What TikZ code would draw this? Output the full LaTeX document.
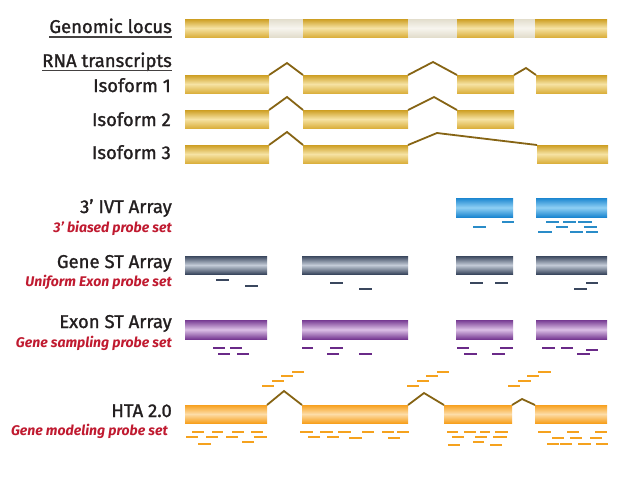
\documentclass[tikz,border=0pt]{standalone}
\usepackage{fontspec}
\setmainfont{Fira Sans}
\usetikzlibrary{calc}
\definecolor{gdark}{HTML}{CD9E22}
\definecolor{gmid}{HTML}{DBB03E}
\definecolor{glight}{HTML}{F6E3A4}
\definecolor{idark}{HTML}{E2DDCC}
\definecolor{ilight}{HTML}{F7F5EF}
\definecolor{junc}{HTML}{866414}
\definecolor{bdark}{HTML}{1B86D0}
\definecolor{blight}{HTML}{8FD0F4}
\definecolor{sdark}{HTML}{3A475E}
\definecolor{slight}{HTML}{C4CCD8}
\definecolor{pdark}{HTML}{763A92}
\definecolor{plight}{HTML}{DCC0E6}
\definecolor{odark}{HTML}{F7A01E}
\definecolor{olight}{HTML}{FDDDA8}
\definecolor{bprobe}{HTML}{2A8CC8}
\definecolor{sprobe}{HTML}{3A475E}
\definecolor{pprobe}{HTML}{6A2A88}
\definecolor{oprobe}{HTML}{F5A21E}
\definecolor{redtxt}{HTML}{C01A30}
\definecolor{blktxt}{HTML}{231F20}
\tikzset{
  bar/.style={draw=none, inner sep=0pt, outer sep=0pt, anchor=north west, minimum height=18pt},
  goldbar/.style={bar, top color=gdark, bottom color=gmid, middle color=glight},
  greybar/.style={bar, top color=idark, bottom color=idark, middle color=ilight},
  bluebar/.style={bar, minimum height=19pt, top color=bdark, bottom color=bdark, middle color=blight},
  slatebar/.style={bar, top color=sdark, bottom color=sdark, middle color=slight},
  purpbar/.style={bar, minimum height=19pt, top color=pdark, bottom color=pdark, middle color=plight},
  orbar/.style={bar, top color=odark, bottom color=odark, middle color=olight},
  junction/.style={draw=junc, line width=1.8pt, line join=miter},
  lbl/.style={anchor=base east, inner sep=0pt, text=blktxt, font=\fontsize{18.5}{22}\selectfont\addfontfeature{FakeBold=1.3}},
  sub/.style={anchor=base east, inner sep=0pt, text=redtxt, font=\fontsize{14}{16}\selectfont\bfseries\itshape},
  uline/.style={draw=blktxt!85, line width=1.2pt},
  pB/.style={draw=bprobe, line width=2.6pt},
  pS/.style={draw=sprobe, line width=2.6pt},
  pP/.style={draw=pprobe, line width=2.6pt},
  pO/.style={draw=oprobe, line width=2.6pt},
}
\begin{document}
\begin{tikzpicture}[x=1pt,y=-1pt]
\useasboundingbox[fill=white] (0,0) rectangle (640,480);

% ---- labels ----
\node[lbl] (tgl) at (172,33) {Genomic locus};
\draw[uline] ([yshift=-4pt]tgl.base west) -- ([yshift=-4pt]tgl.base east);
\node[lbl] (trna) at (172,67) {RNA transcripts};
\draw[uline] ([yshift=-3.5pt]trna.base west) -- ([yshift=-3.5pt]trna.base east);
\node[lbl] (tiso1) at (171,92) {Isoform 1};
\node[lbl] (tiso2) at (171,126) {Isoform 2};
\node[lbl] (tiso3) at (171,159) {Isoform 3};
\node[lbl] (tivt) at (172,213) {3’ IVT Array};
\node[sub] (sivt) at (172,232) {3’ biased probe set};
\node[lbl] (tgst) at (172,268) {Gene ST Array};
\node[sub] (sgst) at (172,286) {Uniform Exon probe set};
\node[lbl] (test) at (172,328) {Exon ST Array};
\node[sub] (sest) at (172,347) {Gene sampling probe set};
\node[lbl] (thta) at (172,417) {HTA 2.0};
\node[sub] (shta) at (168,435) {Gene modeling probe set};

% ---- genomic locus ----
\node[goldbar, minimum width=84pt] (g1) at (185,19) {};
\node[greybar, minimum width=34pt] (n1) at (269,19) {};
\node[goldbar, minimum width=105pt] (g2) at (303,19) {};
\node[greybar, minimum width=49pt] (n2) at (408,19) {};
\node[goldbar, minimum width=57pt] (g3) at (457,19) {};
\node[greybar, minimum width=21pt] (n3) at (514,19) {};
\node[goldbar, minimum width=72pt] (g4) at (535,19) {};

% ---- isoform 1 ----
\node[goldbar, minimum width=84pt] (a1) at (185,75) {};
\node[goldbar, minimum width=105pt] (a2) at (303,75) {};
\node[goldbar, minimum width=57pt] (a3) at (457,75) {};
\node[goldbar, minimum width=71pt] (a4) at (536,75) {};
\coordinate (ap1) at (287,63);
\coordinate (ap2) at (433,62);
\coordinate (ap3) at (526,68);
\draw[junction] (a1.north east) -- (ap1) -- (a2.north west);
\draw[junction] (a2.north east) -- (ap2) -- (a3.north west);
\draw[junction] (a3.north east) -- (ap3) -- (a4.north west);

% ---- isoform 2 ----
\node[goldbar, minimum width=84pt] (b1) at (185,110) {};
\node[goldbar, minimum width=105pt] (b2) at (303,110) {};
\node[goldbar, minimum width=57pt] (b3) at (457,110) {};
\coordinate (bp1) at (287,97);
\coordinate (bp2) at (434,97);
\draw[junction] (b1.north east) -- (bp1) -- (b2.north west);
\draw[junction] (b2.north east) -- (bp2) -- (b3.north west);

% ---- isoform 3 ----
\node[goldbar, minimum width=84pt] (c1) at (185,145) {};
\node[goldbar, minimum width=105pt] (c2) at (303,145) {};
\node[goldbar, minimum width=71pt] (c3) at (537,145) {};
\coordinate (cp1) at (287,132);
\coordinate (cp2) at (437,133);
\draw[junction] (c1.north east) -- (cp1) -- (c2.north west);
\draw[junction] (c2.north east) -- (cp2) -- (c3.north west);

% ---- 3' IVT ----
\node[bluebar, minimum width=57pt] (v1) at (456,198) {};
\node[bluebar, minimum width=71pt] (v2) at (536,198) {};
\foreach \xa/\xb/\yy in {473/486/227, 502/514/222, 546/559/222, 563/576/222, 578/592/222,
  556/568/227, 584/597/227, 538/552/232, 570/583/232, 586/598/232}
  \draw[pB] (\xa,\yy) -- (\xb,\yy);

% ---- Gene ST ----
\node[slatebar, minimum width=82pt] (s1) at (185,256) {};
\node[slatebar, minimum width=106pt] (s2) at (302,256) {};
\node[slatebar, minimum width=57pt] (s3) at (456,256) {};
\node[slatebar, minimum width=71pt] (s4) at (536,256) {};
\foreach \xa/\xb/\yy in {216/229/280, 245/258/286, 330/343/283, 359/372/289,
  470/483/283, 495/508/283, 586/598/283, 574/587/289}
  \draw[pS] (\xa,\yy) -- (\xb,\yy);

% ---- Exon ST ----
\node[purpbar, minimum width=82pt] (e1) at (185,320) {};
\node[purpbar, minimum width=106pt] (e2) at (302,320) {};
\node[purpbar, minimum width=57pt] (e3) at (456,320) {};
\node[purpbar, minimum width=71pt] (e4) at (536,320) {};
\foreach \xa/\xb/\yy in {213/225/348, 230/242/348, 218/230/354, 237/249/354,
  302/313/348, 330/343/348, 327/339/354, 359/372/354,
  457/469/348, 500/513/348, 464/477/354, 492/505/354,
  542/555/348, 561/573/348, 586/598/350, 577/590/354}
  \draw[pP] (\xa,\yy) -- (\xb,\yy);

% ---- HTA 2.0 ----
\node[orbar, minimum width=82pt] (h1) at (185,405) {};
\node[orbar, minimum width=106pt] (h2) at (302,405) {};
\node[orbar, minimum width=68pt] (h3) at (444,405) {};
\node[orbar, minimum width=72pt] (h4) at (535,405) {};
\coordinate (hp1) at (284,391);
\coordinate (hp2) at (424,393);
\coordinate (hp3) at (522,399);
\draw[junction] (h1.north east) -- (hp1) -- (h2.north west);
\draw[junction] (h2.north east) -- (hp2) -- (h3.north west);
\draw[junction] (h3.north east) -- (hp3) -- (h4.north west);
\foreach \xa/\xb/\yy in {262/274/386, 272/284/381, 281/293/376, 292/304/372,
  407/419/386, 417/429/381, 426/438/376, 437/449/372,
  508/520/386, 518/531/381, 527/539/376, 538/551/372,
  192/204/432, 212/223/432, 232/244/432, 251/263/432,
  186/198/437, 206/218/437, 226/238/437, 254/267/437, 242/254/442, 198/211/444,
  300/313/432, 320/333/432, 338/351/432, 362/374/432, 382/394/432, 397/409/432,
  308/320/437, 327/339/437, 349/362/438, 388/400/438,
  447/458/432, 464/476/432, 480/490/432, 495/508/432,
  452/464/437, 475/487/437, 493/507/437, 473/484/442, 448/460/445, 490/502/445,
  538/551/432, 567/579/432, 595/607/432,
  552/564/438, 570/582/438, 590/602/438,
  547/559/444, 560/572/444, 578/591/444, 596/608/444}
  \draw[pO] (\xa,\yy) -- (\xb,\yy);
\end{tikzpicture}
\end{document}
